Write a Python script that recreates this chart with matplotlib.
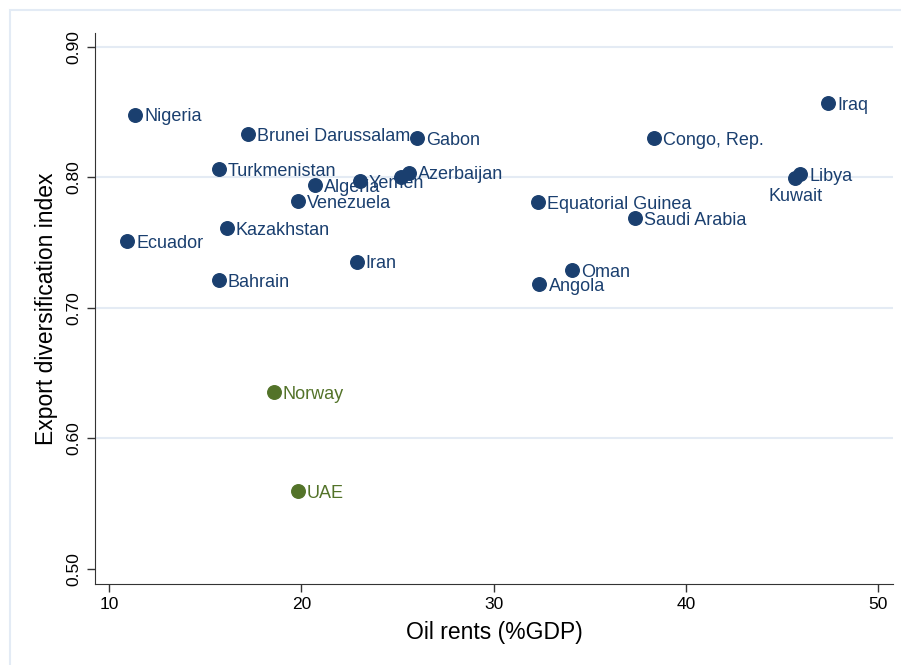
import matplotlib.pyplot as plt
from matplotlib.patches import Rectangle

# oil rents (%GDP) vs export diversification index
countries = ["Nigeria", "Brunei Darussalam", "Gabon", "Turkmenistan", "Algeria",
             "Yemen", "Azerbaijan", "", "Venezuela", "Kazakhstan", "Ecuador",
             "Iran", "Bahrain", "Congo, Rep.", "Iraq", "Libya", "Kuwait",
             "Equatorial Guinea", "Saudi Arabia", "Oman", "Angola"]
oil_rents = [11.35, 17.22, 26.0, 15.71, 20.70, 23.04, 25.58, 25.17, 19.82,
             16.13, 10.94, 22.88, 15.71, 38.36, 47.40, 45.95, 45.69, 32.29,
             37.38, 34.10, 32.39]
diversification = [0.848, 0.833, 0.830, 0.8065, 0.794, 0.797, 0.8035, 0.800,
                   0.782, 0.7613, 0.7513, 0.7353, 0.7215, 0.830, 0.857, 0.8027,
                   0.7996, 0.7812, 0.769, 0.7291, 0.7184]

other_countries = ["Norway", "UAE"]
other_rents = [18.57, 19.82]
other_div = [0.6356, 0.5598]

x_ticks = [10, 20, 30, 40, 50]
y_ticks = [0.50, 0.60, 0.70, 0.80, 0.90]

navy = "#1a3f6f"
green = "#537329"

plt.rcParams['font.family'] = ['Liberation Sans', 'DejaVu Sans']

fig = plt.figure(figsize=(9.01, 6.65), dpi=100)
fig.patches.append(Rectangle((10 / 901, -0.1), 1.2, 1 - 10 / 665 + 0.1,
                             transform=fig.transFigure, fill=False,
                             edgecolor="#e3ebf5", linewidth=1.5))
ax = fig.add_axes([95 / 901, 1 - 584 / 665, 798 / 901, 551 / 665])

for y in y_ticks[1:]:
    ax.axhline(y, color="#e4ebf4", linewidth=1.5, zorder=0)

ax.scatter(oil_rents, diversification, s=95, color=navy, zorder=3)
ax.scatter(other_rents, other_div, s=95, color=green, zorder=3)

for name, x, y in zip(countries, oil_rents, diversification):
    if name == "":
        continue
    if name == "Kuwait":
        ax.annotate(name, (x, y), xytext=(0, -7), textcoords="offset points",
                    ha="center", va="top", fontsize=13, color=navy)
    else:
        ax.annotate(name, (x, y), xytext=(6.5, -1.5), textcoords="offset points",
                    ha="left", va="center", fontsize=13, color=navy)
for name, x, y in zip(other_countries, other_rents, other_div):
    ax.annotate(name, (x, y), xytext=(6.5, -1.5), textcoords="offset points",
                ha="left", va="center", fontsize=13, color=green)

ax.set_xlim(9.27, 50.78)
ax.set_ylim(0.4885, 0.9107)
ax.set_xticks(x_ticks)
ax.set_yticks(y_ticks)
ax.set_yticklabels([f"{v:.2f}" for v in y_ticks], rotation=90, va="center")
ax.tick_params(axis="both", labelsize=12.5, length=6, width=1, color="#333333")
ax.tick_params(axis="y", pad=4)

ax.spines["top"].set_visible(False)
ax.spines["right"].set_visible(False)
ax.spines["left"].set_color("#333333")
ax.spines["bottom"].set_color("#333333")

ax.set_xlabel("Oil rents (%GDP)", fontsize=16.5, labelpad=6)
ax.set_ylabel("Export diversification index", fontsize=16.5, labelpad=6)

fig.savefig("out.png", dpi=100)
